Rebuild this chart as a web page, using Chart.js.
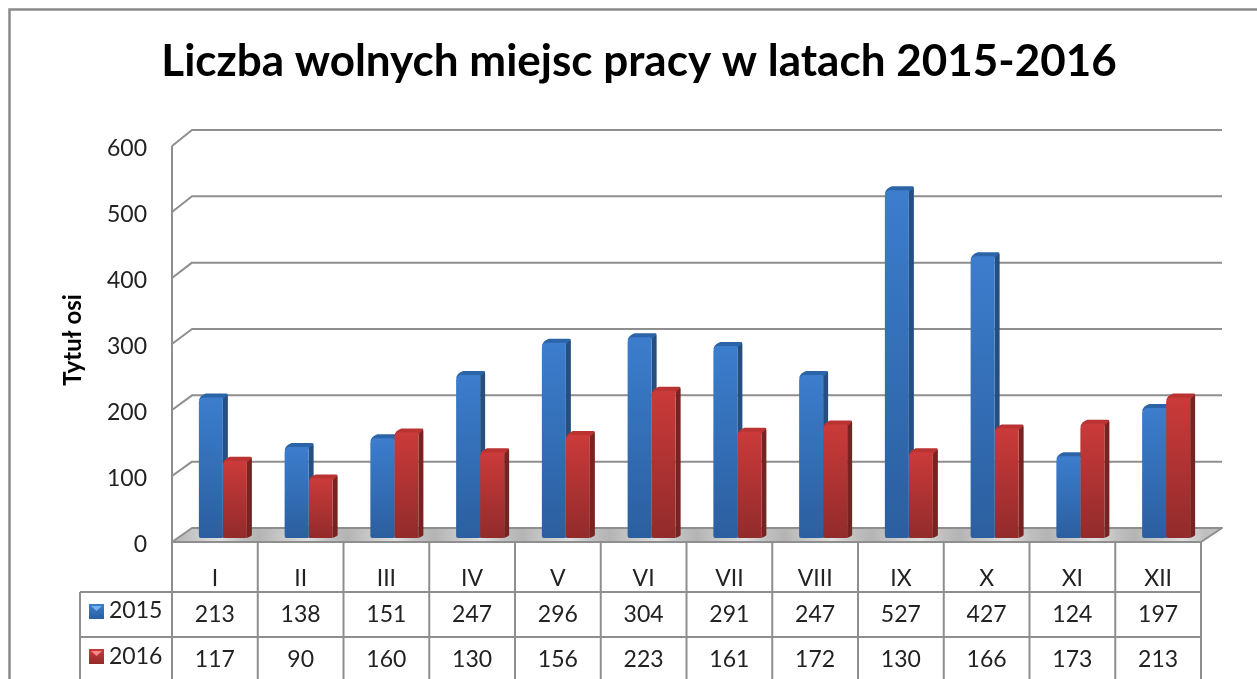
<!DOCTYPE html>
<html><head><meta charset="utf-8">
<style>html,body{margin:0;padding:0;background:#fff;overflow:hidden}#w{width:1257px;height:679px;position:relative}</style>
<script src="https://cdn.jsdelivr.net/npm/chart.js@4"></script>
</head><body><div id="w"><canvas id="c" width="1257" height="679"></canvas></div>
<script>
const chartTitle = 'Liczba wolnych miejsc pracy w latach 2015-2016';
const axisTitle = 'Tytuł osi';
const categories = ['I','II','III','IV','V','VI','VII','VIII','IX','X','XI','XII'];
const series2015 = [213,138,151,247,296,304,291,247,527,427,124,197];
const series2016 = [117,90,160,130,156,223,161,172,130,166,173,213];
const seriesNames = ['2015','2016'];
const yTicks = [0,100,200,300,400,500,600];

const FONT = 'Lato, "Open Sans", sans-serif';
const LINE = '#8e8e8e';
const TEXT = '#222';
const PAL = [
  {top:'#3c7dcd',bot:'#2b5f9f',side:'#244f80',cap:'#2c64a8',hi:'#6fb2ee'},
  {top:'#cb3a3a',bot:'#922b2b',side:'#772321',cap:'#b93333',hi:'#f08a8a'}
];
function barFill(i){
  return function(ctx){
    const ch = ctx.chart;
    if(!ch.chartArea || ctx.raw===undefined) return PAL[i].top;
    const y0 = ch.scales.y.getPixelForValue(ctx.raw), y1 = ch.scales.y.getPixelForValue(0);
    const g = ch.ctx.createLinearGradient(0,y0,0,y1);
    g.addColorStop(0,PAL[i].top); g.addColorStop(1,PAL[i].bot);
    return g;
  };
}
const DX=5, DY=-4;
const scene = {
  id:'scene',
  beforeDraw(ch){
    const c=ch.ctx; c.save();
    c.fillStyle='#fff'; c.fillRect(0,0,ch.width,ch.height);
    c.strokeStyle='#8a8a8a'; c.lineWidth=2.5;
    c.beginPath(); c.moveTo(9.5,ch.height); c.lineTo(9.5,9.5); c.lineTo(ch.width,9.5); c.stroke();
    c.restore();
  },
  beforeDatasetsDraw(ch){
    const c=ch.ctx, y=ch.scales.y, x=ch.scales.x, st=x.getPixelForTick(1)-x.getPixelForTick(0);
    const fl=x.getPixelForTick(0)-st/2-8, fr=fl+st*12;
    const front=v=>y.getPixelForValue(v)+4, back=v=>y.getPixelForValue(v)-(10+2*v/600);
    c.save();
    // floor
    const g=c.createLinearGradient(fl,0,fr+21,0);
    for(let i=0;i<12;i++){
      const a=i/12,b=1/12;
      g.addColorStop(a,'#b4b4b4'); g.addColorStop(a+b*.55,'#dedede'); g.addColorStop(a+b*.8,'#c0c0c0');
    }
    c.fillStyle=g; c.beginPath();
    c.moveTo(fl,front(0)); c.lineTo(fl+20,back(0)); c.lineTo(fr+21,back(0)); c.lineTo(fr,front(0)); c.closePath(); c.fill();
    // walls and grid
    c.strokeStyle=LINE; c.lineWidth=2; c.lineJoin='round';
    for(const t of yTicks){
      c.beginPath(); c.moveTo(fl,front(t)); c.lineTo(fl+20,back(t)); c.lineTo(fr+21,back(t));
      if(t===0) c.lineTo(fr,front(0));
      c.stroke();
    }
    c.beginPath(); c.moveTo(fl,front(600)); c.lineTo(fl,front(0)); c.lineTo(fr,front(0)); c.stroke();
    // depth of the bars
    [0,1].forEach(ds=>{
      ch.getDatasetMeta(ds).data.forEach(b=>{
        const l=b.x-b.width/2, r=b.x+b.width/2, t=b.y, bt=b.base, p=PAL[ds];
        c.fillStyle=p.side; c.beginPath();
        c.moveTo(r,t); c.lineTo(r+DX-1,t+DY); c.quadraticCurveTo(r+DX,t+DY,r+DX,t+DY+3);
        c.lineTo(r+DX,bt+DY+1); c.quadraticCurveTo(r+DX,bt+DY+2,r,bt); c.closePath(); c.fill();
        c.fillStyle=p.cap; c.beginPath();
        c.moveTo(l,t+3); c.quadraticCurveTo(l+1,t+DY+2,l+DX+2,t+DY); c.lineTo(r+DX-2,t+DY);
        c.quadraticCurveTo(r+DX,t+DY,r+DX-1,t+DY+2); c.lineTo(r,t+2); c.closePath(); c.fill();
      });
    });
    c.restore();
  },
  afterDraw(ch){
    const c=ch.ctx, x=ch.scales.x, y=ch.scales.y, st=x.getPixelForTick(1)-x.getPixelForTick(0);
    const fl=x.getPixelForTick(0)-st/2-8, fr=fl+st*12, H=ch.height;
    const yTop=y.getPixelForValue(0)+4, r1=592, r2=637, left=80;
    c.save();
    c.strokeStyle=LINE; c.lineWidth=2;
    for(let i=0;i<=12;i++){ const X=fl+st*i; c.beginPath(); c.moveTo(X,yTop); c.lineTo(X,H); c.stroke(); }
    [r1,r2].forEach(Y=>{ c.beginPath(); c.moveTo(left,Y); c.lineTo(fr+1,Y); c.stroke(); });
    c.beginPath(); c.moveTo(left,r1); c.lineTo(left,H); c.stroke();
    c.fillStyle=TEXT; c.textAlign='center'; c.textBaseline='middle'; c.font='23px '+FONT;
    categories.forEach((_,i)=>{
      const X=x.getPixelForTick(i)-8;
      c.fillText(String(series2015[i]),X,615);
      c.fillText(String(series2016[i]),X,660);
    });
    seriesNames.forEach((n,k)=>{
      const iy=k?649:604, p=PAL[k];
      const g=c.createLinearGradient(0,iy,0,iy+15); g.addColorStop(0,p.top); g.addColorStop(1,p.bot);
      c.fillStyle=g; c.fillRect(89,iy,15,15);
      c.fillStyle=p.hi; c.beginPath(); c.moveTo(91,iy+2); c.lineTo(102,iy+2); c.lineTo(96.5,iy+7); c.closePath(); c.fill();
      c.fillStyle=TEXT; c.textAlign='left'; c.fillText(n,109,k?657:611);
    });
    c.restore();
  }
};
new Chart(document.getElementById('c'),{
  type:'bar',
  data:{labels:categories,datasets:[
    {label:seriesNames[0],data:series2015,backgroundColor:barFill(0),borderRadius:{topLeft:5,topRight:1,bottomLeft:2,bottomRight:1},borderSkipped:false},
    {label:seriesNames[1],data:series2016,backgroundColor:barFill(1),borderRadius:{topLeft:5,topRight:1,bottomLeft:2,bottomRight:1},borderSkipped:false}
  ]},
  plugins:[scene],
  options:{
    responsive:false,animation:false,
    categoryPercentage:.56,barPercentage:1,
    layout:{padding:{left:69,right:48,top:0,bottom:0}},
    plugins:{
      legend:{display:false},tooltip:{enabled:false},
      title:{display:true,text:chartTitle,color:'#000',font:{family:FONT,size:44,weight:'bold',lineHeight:1.2},padding:{top:35.6,bottom:53.6}}
    },
    scales:{
      x:{
        grid:{display:false,drawTicks:false},border:{display:false},
        ticks:{color:TEXT,font:{family:FONT,size:23},padding:27,labelOffset:-8,autoSkip:false,maxRotation:0},
        afterFit(s){s.height=141;}
      },
      y:{
        min:0,max:600,
        grid:{display:false,drawTicks:false},border:{display:false},
        afterBuildTicks(s){s.ticks=yTicks.map(v=>({value:v}));},
        ticks:{color:TEXT,font:{family:FONT,size:23},padding:33,labelOffset:7},
        title:{display:true,text:axisTitle,color:'#000',font:{family:FONT,size:24,weight:'bold'},padding:{top:-10,bottom:0}},
        afterFit(s){s.width=111;}
      }
    }
  }
});
</script></body></html>
